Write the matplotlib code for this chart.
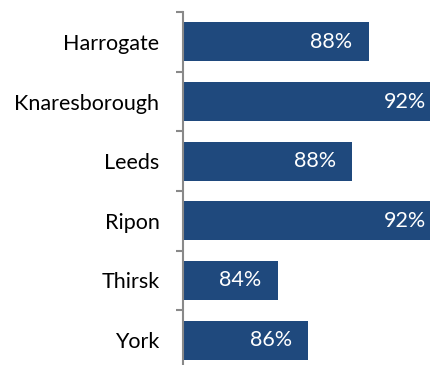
"""Horizontal bar chart of satisfaction share by town."""

import matplotlib.pyplot as plt
from matplotlib.ticker import FixedLocator

towns = ["Harrogate", "Knaresborough", "Leeds", "Ripon", "Thirsk", "York"]
shares = [88.45, 91.8, 87.7, 91.8, 84.3, 85.7]

BAR_COLOR = "#1F497D"
AXIS_COLOR = "#898989"


def main():
	plt.rcParams["font.family"] = ["Lato", "DejaVu Sans"]
	fig = plt.figure(figsize=(4.3, 3.65), dpi=100)
	ax = fig.add_axes([183 / 430, -5 / 365, 247 / 430, 358 / 365])

	pos = list(range(len(towns)))
	ax.barh(pos, shares, height=0.65, color=BAR_COLOR, left=0)
	ax.set_xlim(80, 91.23)
	ax.set_ylim(len(towns) - 0.5, -0.5)

	for y, v in zip(pos, shares):
		ax.annotate(f"{v:.0f}%", xy=(v, y), xytext=(-16.5, 0),
			textcoords="offset pixels", ha="right", va="center",
			color="white", fontsize=15.5, annotation_clip=False)

	ax.set_yticks(pos)
	ax.set_yticklabels(towns, fontsize=15.5)
	ax.yaxis.set_minor_locator(FixedLocator([p - 0.5 for p in pos] + [len(towns) - 0.5]))
	ax.tick_params(axis="y", which="major", length=0, pad=17)
	ax.tick_params(axis="y", which="minor", length=5, width=1.5, color=AXIS_COLOR)
	ax.set_xticks([])

	for side in ("top", "right", "bottom"):
		ax.spines[side].set_visible(False)
	ax.spines["left"].set_color(AXIS_COLOR)
	ax.spines["left"].set_linewidth(1.5)

	fig.savefig("out.png", dpi=100)


if __name__ == "__main__":
	main()
